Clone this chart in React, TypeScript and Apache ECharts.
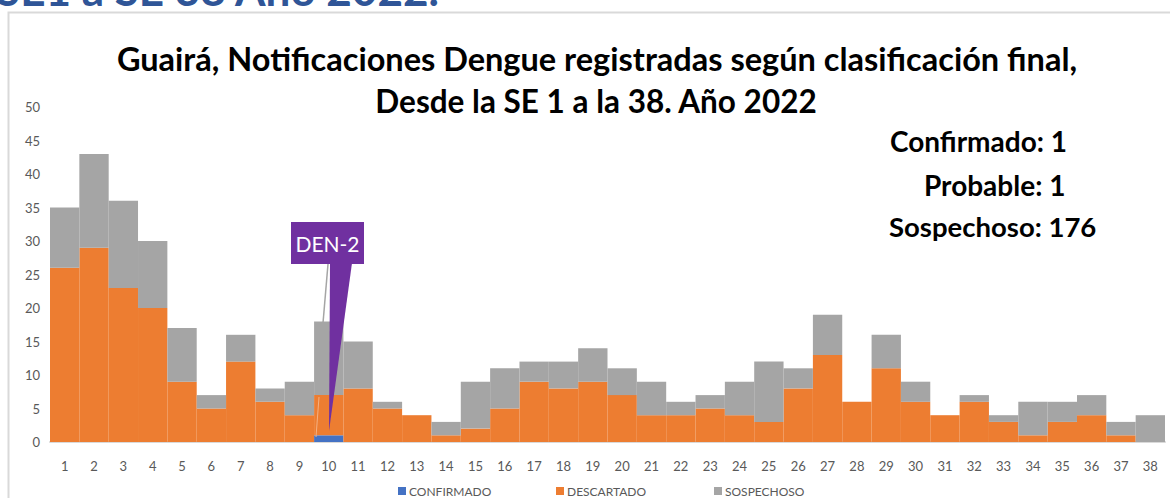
import React, { useEffect, useRef } from "react";
import * as echarts from "echarts";

const weeks = ["1","2","3","4","5","6","7","8","9","10","11","12","13","14","15","16","17","18","19","20","21","22","23","24","25","26","27","28","29","30","31","32","33","34","35","36","37","38"];
const confirmado = [0,0,0,0,0,0,0,0,0,1,0,0,0,0,0,0,0,0,0,0,0,0,0,0,0,0,0,0,0,0,0,0,0,0,0,0,0,0];
const descartado = [26,29,23,20,9,5,12,6,4,6,8,5,4,1,2,5,9,8,9,7,4,4,5,4,3,8,13,6,11,6,4,6,3,1,3,4,1,0];
const sospechoso = [9,14,13,10,8,2,4,2,5,11,7,1,0,2,7,6,3,4,5,4,5,2,2,5,9,3,6,0,5,3,0,1,1,5,3,3,2,4];
const yTicks = { min: 0, max: 50, interval: 5 };
const titleLines = ["Guairá, Notificaciones Dengue registradas según clasificación final,", "Desde la SE 1 a la 38. Año 2022"];
const summary = ["Confirmado: 1", "Probable: 1", "Sospechoso: 176"];

const FONT = "Lato, 'Noto Sans', sans-serif";

export default function App() {
  const ref = useRef<HTMLDivElement>(null);
  useEffect(() => {
    document.body.style.margin = "0";
    const chart = echarts.init(ref.current!, null, { renderer: "svg" });
    const legendBase = {
      top: 480,
      itemWidth: 8,
      itemHeight: 8,
      itemGap: 5,
      icon: "rect",
      textStyle: { color: "#595959", fontSize: 12, fontFamily: FONT, padding: [0, 0, 0, -2] },
    };
    chart.setOption({
      animation: false,
      textStyle: { fontFamily: FONT },
      grid: { left: 50, right: 5, top: 107, bottom: 56, containLabel: false },
      legend: [
        { ...legendBase, left: 393, data: ["CONFIRMADO"] },
        { ...legendBase, left: 551, data: ["DESCARTADO"] },
        { ...legendBase, left: 709, data: ["SOSPECHOSO"] },
      ],
      xAxis: {
        type: "category",
        data: weeks,
        axisTick: { show: false },
        axisLine: { lineStyle: { color: "#d9d9d9", width: 2 } },
        axisLabel: { color: "#595959", fontSize: 13, fontFamily: FONT, margin: 17, interval: 0 },
      },
      yAxis: {
        type: "value",
        min: yTicks.min,
        max: yTicks.max,
        interval: yTicks.interval,
        splitLine: { show: false },
        axisLine: { show: false },
        axisTick: { show: false },
        axisLabel: { color: "#595959", fontSize: 13, fontFamily: FONT, margin: 10 },
      },
      series: [
        { name: "CONFIRMADO", type: "bar", stack: "t", data: confirmado, barCategoryGap: 0, itemStyle: { color: "#4472C4" } },
        { name: "DESCARTADO", type: "bar", stack: "t", data: descartado, barCategoryGap: 0, itemStyle: { color: "#ED7D31" } },
        { name: "SOSPECHOSO", type: "bar", stack: "t", data: sospechoso, barCategoryGap: 0, itemStyle: { color: "#A5A5A5" } },
      ],
      graphic: [
        { type: "rect", shape: { x: 8.5, y: 12.5, width: 1200, height: 600 }, style: { fill: "none", stroke: "#d9d9d9", lineWidth: 2 }, z: 0 },
        { type: "text", x: -4, y: 11, style: { text: "SE1 a SE 38 Año 2022.", fill: "#2F5597", font: "bold 44px " + FONT, textAlign: "left", textVerticalAlign: "bottom" } },
        { type: "text", x: 597, y: 58, style: { text: titleLines[0], fill: "#000", font: "bold 32.5px " + FONT, textAlign: "center", textVerticalAlign: "middle" } },
        { type: "text", x: 596, y: 101, style: { text: titleLines[1], fill: "#000", font: "bold 31.5px " + FONT, textAlign: "center", textVerticalAlign: "middle" } },
        { type: "text", x: 890, y: 141, style: { text: summary[0], fill: "#000", font: "bold 28px " + FONT, textAlign: "left", textVerticalAlign: "middle" } },
        { type: "text", x: 924, y: 185, style: { text: summary[1], fill: "#000", font: "bold 28px " + FONT, textAlign: "left", textVerticalAlign: "middle" } },
        { type: "text", x: 889, y: 226, style: { text: summary[2], fill: "#000", font: "bold 27.5px " + FONT, textAlign: "left", textVerticalAlign: "middle" } },
        { type: "line", shape: { x1: 328, y1: 264, x2: 323, y2: 323 }, style: { stroke: "#A5A5A5", lineWidth: 1.5 }, z: 20 },
        { type: "line", shape: { x1: 319, y1: 397, x2: 316, y2: 437 }, style: { stroke: "#F4B183", lineWidth: 1 }, z: 20 },
        { type: "polygon", shape: { points: [[330, 263], [352, 263], [329, 431]] }, style: { fill: "#7030A0" }, z: 21 },
        { type: "rect", shape: { x: 291, y: 222, width: 73, height: 42 }, style: { fill: "#7030A0" }, z: 21 },
        { type: "text", x: 327.5, y: 243, style: { text: "DEN-2", fill: "#fff", font: "21px " + FONT, textAlign: "center", textVerticalAlign: "middle" }, z: 22 },
      ],
    });
    return () => chart.dispose();
  }, []);
  return <div ref={ref} style={{ width: 1170, height: 498 }} />;
}
